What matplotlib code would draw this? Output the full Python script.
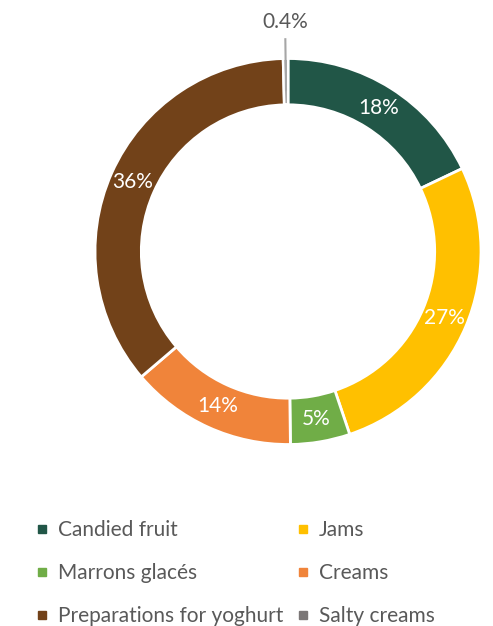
import matplotlib
matplotlib.use("Agg")
import matplotlib.pyplot as plt
from matplotlib.lines import Line2D
import numpy as np

plt.rcParams["font.family"] = ["Lato", "DejaVu Sans"]

categories = ["Candied fruit", "Jams", "Marrons glacés", "Creams",
              "Preparations for yoghurt", "Salty creams"]
shares = [18, 27, 5, 14, 36, 0.4]
labels = ["18%", "27%", "5%", "14%", "36%", "0.4%"]
colors = ["#215647", "#FFC000", "#70AD47", "#F0843A", "#724219", "#7B7777"]

W, H = 493, 626
fig = plt.figure(figsize=(W / 100, H / 100), dpi=100)

# donut placed by pixel geometry: centre (288, 251.5), outer radius 193 px
cx, cy, R = 288, 251.5, 193
ax = fig.add_axes([(cx - R) / W, (H - cy - R) / H, 2 * R / W, 2 * R / H])

ring = 0.24
wedges, _ = ax.pie(shares, colors=colors, startangle=90, counterclock=False,
                   radius=1, wedgeprops=dict(width=ring, edgecolor="white", linewidth=2))
ax.set_xlim(-1, 1)
ax.set_ylim(-1, 1)
ax.set_aspect("equal")
ax.axis("off")

mid_r = 1 - ring / 2
for w, lab in zip(wedges[:-1], labels[:-1]):
    ang = np.deg2rad((w.theta1 + w.theta2) / 2)
    ax.text(mid_r * np.cos(ang), mid_r * np.sin(ang), lab, ha="center", va="center",
            color="white", fontsize=15)

# small slice gets an outside label with a leader line
w = wedges[-1]
ang = np.deg2rad((w.theta1 + w.theta2) / 2)
ax.plot([0.84 * np.cos(ang), 1.10 * np.cos(ang)], [0.84 * np.sin(ang), 1.10 * np.sin(ang)],
        color="#A6A6A6", lw=1.5, clip_on=False)
ax.text(1.19 * np.cos(ang), 1.19 * np.sin(ang), labels[-1], ha="center", va="center",
        color="#595959", fontsize=15, clip_on=False)

handles = [Line2D([], [], marker="s", linestyle="none", markersize=6,
                  markerfacecolor=c, markeredgecolor=c) for c in colors]
# legend fills column by column; order entries so rows read pairwise
order = [0, 2, 4, 1, 3, 5]
fig.legend([handles[i] for i in order], [categories[i] for i in order],
           loc="upper left", bbox_to_anchor=(36 / W, 1 - 520 / H),
           ncol=2, frameon=False, fontsize=15, labelcolor="#595959",
           handlelength=0.6, handletextpad=0.45, columnspacing=0.65,
           labelspacing=1.1, borderaxespad=0, borderpad=0)

fig.savefig("out.png", dpi=100)
